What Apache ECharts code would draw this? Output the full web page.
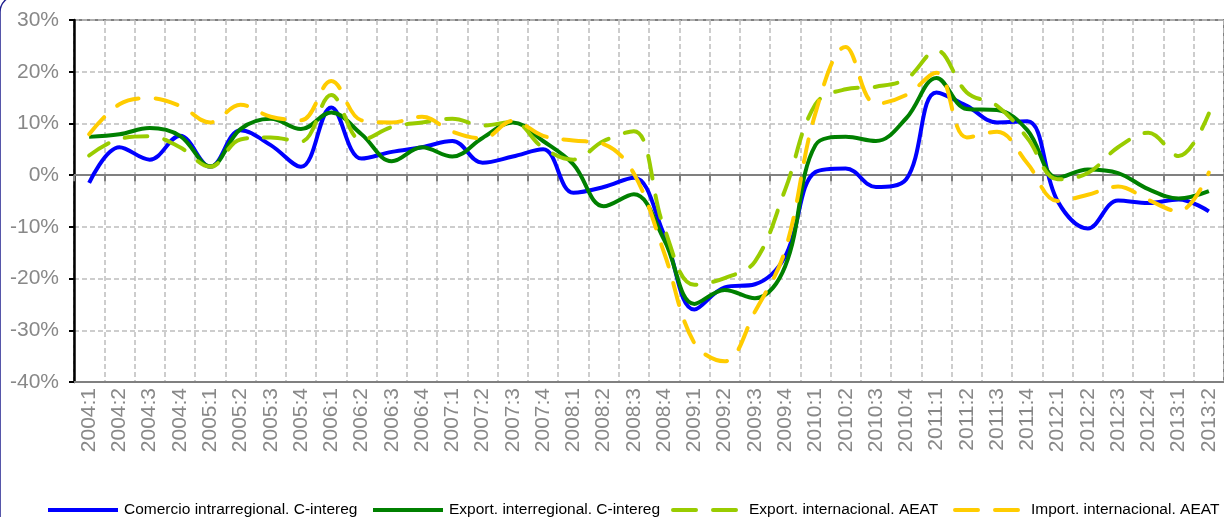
<!DOCTYPE html>
<html>
<head>
<meta charset="utf-8">
<script src="https://cdn.jsdelivr.net/npm/echarts@6/dist/echarts.min.js"></script>
<style>
  html, body { margin: 0; padding: 0; background: #fff; }
  #chart { width: 1224px; height: 517px; }
</style>
</head>
<body>
<div id="chart"></div>
<script>
const quarters = [
    '2004:1', '2004:2', '2004:3', '2004:4', '2005:1', '2005:2', '2005:3', '2005:4',
    '2006:1', '2006:2', '2006:3', '2006:4', '2007:1', '2007:2', '2007:3', '2007:4',
    '2008:1', '2008:2', '2008:3', '2008:4', '2009:1', '2009:2', '2009:3', '2009:4',
    '2010:1', '2010:2', '2010:3', '2010:4', '2011:1', '2011:2', '2011:3', '2011:4',
    '2012:1', '2012:2', '2012:3', '2012:4', '2013:1', '2013:2'
]

// % interannual variation
const intraRegional = [
    -1.5, 5.4, 3.0, 7.6, 1.6, 8.7, 5.8, 1.6,
    13.1, 3.2, 4.5, 5.4, 6.6, 2.4, 3.6, 5.0,
    -3.4, -2.3, -0.5, -11.5, -26.0, -21.7, -21.1, -15.7,
    0.6, 1.3, -2.3, -0.8, 16.0, 13.4, 10.2, 10.4,
    -5.0, -10.3, -4.9, -5.4, -4.7, -7.0
]
const exportInterregional = [
    7.4, 7.9, 9.1, 7.6, 1.7, 8.9, 10.9, 8.9,
    12.1, 7.9, 2.7, 5.4, 3.6, 7.2, 10.2, 6.6,
    2.1, -6.0, -3.7, -12.5, -24.9, -22.2, -23.8, -17.6,
    5.8, 7.4, 6.6, 11.0, 18.8, 12.8, 12.6, 8.7,
    -0.5, 1.1, 0.4, -2.7, -4.5, -3.1
]
const exportIntl = [
    3.8, 7.0, 7.5, 5.4, 1.6, 6.9, 7.3, 6.5,
    15.5, 6.8, 9.3, 10.2, 10.9, 9.6, 10.3, 5.3,
    3.0, 6.6, 8.5, -10.2, -21.2, -19.9, -16.7, -2.8,
    13.7, 16.6, 17.1, 18.6, 24.1, 16.0, 13.4, 7.2,
    -0.8, 0.4, 5.4, 8.2, 3.7, 11.9
]
const importIntl = [
    7.9, 13.7, 14.9, 13.4, 10.2, 13.6, 11.3, 10.6,
    18.2, 10.6, 10.2, 11.3, 8.4, 7.1, 10.5, 7.6,
    6.7, 6.0, 0.3, -15.0, -32.5, -36.0, -26.4, -14.5,
    12.0, 24.8, 13.8, 15.5, 19.8, 7.3, 8.4, 2.3,
    -5.0, -3.8, -2.2, -4.8, -7.0, 0.5
]

const yMin = -40
const yMax = 30
const yStep = 10

const FONT = "'Liberation Sans', Arial, sans-serif"
const GRID_GREY = '#bdbdbd'
const AXIS_GREY = '#808080'
const LABEL_GREY = '#888888'
const LONG_DASH = [23, 17]

function lineSeries(name, data, color, dashed) {
    return {
        name: name,
        type: 'line',
        xAxisIndex: 0,
        data: data,
        smooth: 0.38,
        symbol: 'none',
        showSymbol: false,
        lineStyle: {
            width: 4,
            color: color,
            type: dashed ? LONG_DASH : 'solid',
            cap: dashed ? 'round' : 'butt'
        },
        itemStyle: { color: color },
        z: 3
    }
}

function legendAt(left, name) {
    return {
        data: [name],
        left: left,
        top: 502,
        padding: 0,
        itemWidth: 70,
        itemHeight: 14,
        itemStyle: { opacity: 0 },
        lineStyle: { width: 4 },
        textStyle: {
            color: '#000',
            fontSize: 15.5,
            fontFamily: FONT,
            padding: [0, 0, 0, 1]
        }
    }
}

const chart = echarts.init(document.getElementById('chart'), null, { renderer: 'canvas' })

chart.setOption({
    animation: false,
    backgroundColor: '#fff',
    grid: {
        left: 74,
        top: 20,
        width: 1157,
        height: 362,
        show: true,
        borderColor: AXIS_GREY,
        borderWidth: 2
    },
    legend: [
        legendAt(46, 'Comercio intrarregional. C-intereg'),
        legendAt(371, 'Export. interregional. C-intereg'),
        legendAt(671, 'Export. internacional. AEAT'),
        legendAt(953, 'Import. internacional. AEAT')
    ],
    xAxis: [
        {
            type: 'category',
            data: quarters,
            boundaryGap: true,
            position: 'bottom',
            axisLine: { onZero: false, lineStyle: { color: AXIS_GREY, width: 2 } },
            axisTick: { show: false },
            axisLabel: {
                interval: 0,
                rotate: 90,
                margin: 6,
                color: LABEL_GREY,
                fontSize: 21,
                fontFamily: FONT
            },
            splitLine: {
                show: true,
                interval: 0,
                lineStyle: { color: GRID_GREY, width: 1.5, type: [5, 3] }
            }
        },
        {
            // zero line with its small tick marks
            type: 'category',
            data: quarters,
            boundaryGap: true,
            position: 'bottom',
            axisLine: { onZero: true, lineStyle: { color: AXIS_GREY, width: 2 } },
            axisTick: { show: true, interval: 0, length: 6, lineStyle: { color: AXIS_GREY, width: 2 } },
            axisLabel: { show: false },
            splitLine: { show: false }
        }
    ],
    yAxis: {
        type: 'value',
        min: yMin,
        max: yMax,
        interval: yStep,
        axisLine: { show: true, lineStyle: { color: '#000', width: 2.5 } },
        axisTick: { show: true, length: 5, lineStyle: { color: '#000', width: 2 } },
        axisLabel: {
            formatter: '{value}%',
            margin: 15,
            color: LABEL_GREY,
            fontSize: 21,
            fontFamily: FONT
        },
        splitLine: {
            lineStyle: { color: GRID_GREY, width: 1.5, type: [5, 3] }
        }
    },
    graphic: [
        {
            type: 'rect',
            shape: { x: 0, y: -4, width: 1400, height: 700, r: 16 },
            style: { fill: 'none', stroke: '#1f1f8f', lineWidth: 1.5 },
            silent: true
        }
    ],
    series: [
        lineSeries('Comercio intrarregional. C-intereg', intraRegional, '#0000ff', false),
        lineSeries('Export. interregional. C-intereg', exportInterregional, '#008000', false),
        lineSeries('Export. internacional. AEAT', exportIntl, '#99cc00', true),
        lineSeries('Import. internacional. AEAT', importIntl, '#ffcc00', true)
    ]
})
</script>
</body>
</html>
